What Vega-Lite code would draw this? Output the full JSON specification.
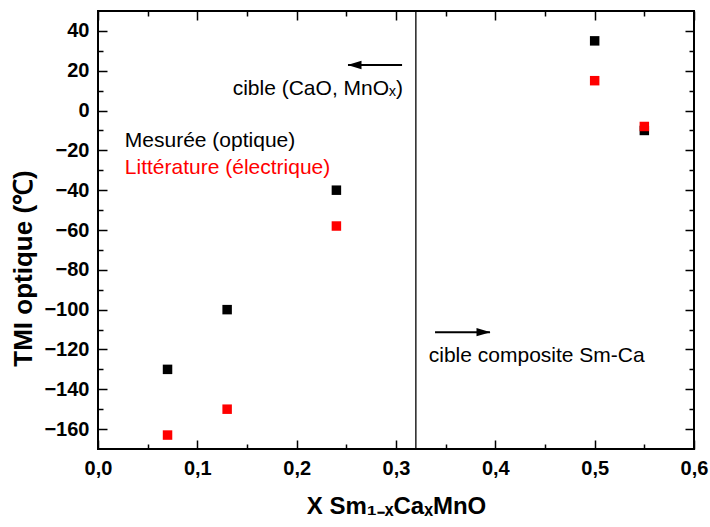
{
  "$schema": "https://vega.github.io/schema/vega-lite/v6.json",
  "width": 596,
  "height": 438,
  "autosize": {"type": "none"},
  "padding": {"left": 98, "top": 11, "right": 16, "bottom": 78},
  "background": "white",
  "config": {
    "font": "Liberation Sans",
    "view": {"stroke": "black", "strokeWidth": 2},
    "axis": {
      "domain": false,
      "grid": false,
      "labelFlush": false,
      "tickColor": "black",
      "tickWidth": 1.5,
      "labelFont": "Liberation Sans",
      "labelFontWeight": "bold",
      "labelFontSize": 20,
      "labelColor": "black",
      "titleFont": "Liberation Sans",
      "titleFontWeight": "bold",
      "titleFontSize": 24,
      "titleColor": "black"
    }
  },
  "resolve": {"axis": {"x": "independent", "y": "independent"}},
  "layer": [
    {
      "data": {"values": [
        {"x": 0.07, "y": -130, "series": "Mesurée (optique)"},
        {"x": 0.13, "y": -100, "series": "Mesurée (optique)"},
        {"x": 0.24, "y": -40, "series": "Mesurée (optique)"},
        {"x": 0.5, "y": 35, "series": "Mesurée (optique)"},
        {"x": 0.55, "y": -10, "series": "Mesurée (optique)"},
        {"x": 0.07, "y": -163, "series": "Littérature (électrique)"},
        {"x": 0.13, "y": -150, "series": "Littérature (électrique)"},
        {"x": 0.24, "y": -58, "series": "Littérature (électrique)"},
        {"x": 0.5, "y": 15, "series": "Littérature (électrique)"},
        {"x": 0.55, "y": -8, "series": "Littérature (électrique)"}
      ]},
      "mark": {"type": "point", "shape": "square", "filled": true, "size": 90, "opacity": 1},
      "encoding": {
        "x": {"field": "x", "type": "quantitative",
          "scale": {"domain": [0, 0.6], "nice": false, "zero": false},
          "axis": {"orient": "bottom", "values": [0, 0.1, 0.2, 0.3, 0.4, 0.5, 0.6], "ticks": false,
            "format": ".1f", "labelExpr": "replace(datum.label, '.', ',')", "labelPadding": 9,
            "title": "X Sm₁₋ₓCaₓMnO", "titlePadding": 16}},
        "y": {"field": "y", "type": "quantitative",
          "scale": {"domain": [-170, 50], "nice": false, "zero": false},
          "axis": {"orient": "left", "values": [-160, -140, -120, -100, -80, -60, -40, -20, 0, 20, 40], "ticks": false,
            "labelPadding": 9, "title": "TMI optique (℃)", "titleFontSize": 26, "titlePadding": 7, "titleY": 257}},
        "color": {"field": "series", "type": "nominal",
          "scale": {"domain": ["Mesurée (optique)", "Littérature (électrique)", "annotation"], "range": ["#000000", "#ff0000", "#000000"]},
          "legend": null}
      }
    },
    {
      "data": {"values": [{"x": 0.32}]},
      "mark": {"type": "rule", "color": "black", "strokeWidth": 1.3},
      "encoding": {"x": {"field": "x", "type": "quantitative", "axis": null}}
    },
    {
      "data": {"values": [
        {"x": 0.2517, "x2": 0.3061, "y": 22.9},
        {"x": 0.3393, "x2": 0.3946, "y": -111.3}
      ]},
      "mark": {"type": "rule", "color": "black", "strokeWidth": 2},
      "encoding": {
        "x": {"field": "x", "type": "quantitative",
          "axis": {"orient": "bottom", "values": [0, 0.1, 0.2, 0.3, 0.4, 0.5, 0.6], "tickSize": -9, "labels": false, "title": null}},
        "x2": {"field": "x2"},
        "y": {"field": "y", "type": "quantitative",
          "axis": {"orient": "left", "values": [-160, -140, -120, -100, -80, -60, -40, -20, 0, 20, 40], "tickSize": -9, "labels": false, "title": null}}
      }
    },
    {
      "data": {"values": [
        {"x": 0.2582, "y": 22.9, "dir": "left"},
        {"x": 0.3881, "y": -111.3, "dir": "right"}
      ]},
      "mark": {"type": "point", "filled": true, "size": 196, "opacity": 1, "color": "black", "strokeWidth": 0},
      "encoding": {
        "x": {"field": "x", "type": "quantitative",
          "axis": {"orient": "bottom", "values": [0.05, 0.15, 0.25, 0.35, 0.45, 0.55], "tickSize": -5, "labels": false, "title": null}},
        "y": {"field": "y", "type": "quantitative",
          "axis": {"orient": "left", "values": [-150, -130, -110, -90, -70, -50, -30, -10, 10, 30], "tickSize": -5, "labels": false, "title": null}},
        "shape": {"field": "dir", "type": "nominal",
          "scale": {"domain": ["left", "right"], "range": ["M -1 0 L 1 -0.6 L 1 0.6 Z", "M 1 0 L -1 -0.6 L -1 0.6 Z"]},
          "legend": null}
      }
    },
    {
      "data": {"values": [
        {"x": 0.027, "y": -15.5, "text": "Mesurée (optique)", "series": "Mesurée (optique)"},
        {"x": 0.027, "y": -29.1, "text": "Littérature (électrique)", "series": "Littérature (électrique)"},
        {"x": 0.333, "y": -123.3, "text": "cible composite Sm-Ca", "series": "annotation"}
      ]},
      "mark": {"type": "text", "align": "left", "baseline": "middle", "fontSize": 21, "font": "Liberation Sans"},
      "encoding": {
        "x": {"field": "x", "type": "quantitative",
          "axis": {"orient": "top", "values": [0, 0.1, 0.2, 0.3, 0.4, 0.5, 0.6], "tickSize": -9, "labels": false, "title": null}},
        "y": {"field": "y", "type": "quantitative",
          "axis": {"orient": "right", "values": [-160, -140, -120, -100, -80, -60, -40, -20, 0, 20, 40], "tickSize": -9, "labels": false, "title": null}},
        "text": {"field": "text"},
        "color": {"field": "series", "type": "nominal", "legend": null}
      }
    },
    {
      "data": {"values": [
        {"x": 0.307, "y": 11, "text": "cible (CaO, MnOₓ)", "series": "annotation"}
      ]},
      "mark": {"type": "text", "align": "right", "baseline": "middle", "fontSize": 21, "font": "Liberation Sans"},
      "encoding": {
        "x": {"field": "x", "type": "quantitative",
          "axis": {"orient": "top", "values": [0.05, 0.15, 0.25, 0.35, 0.45, 0.55], "tickSize": -5, "labels": false, "title": null}},
        "y": {"field": "y", "type": "quantitative",
          "axis": {"orient": "right", "values": [-150, -130, -110, -90, -70, -50, -30, -10, 10, 30], "tickSize": -5, "labels": false, "title": null}},
        "text": {"field": "text"},
        "color": {"field": "series", "type": "nominal", "legend": null}
      }
    }
  ]
}
